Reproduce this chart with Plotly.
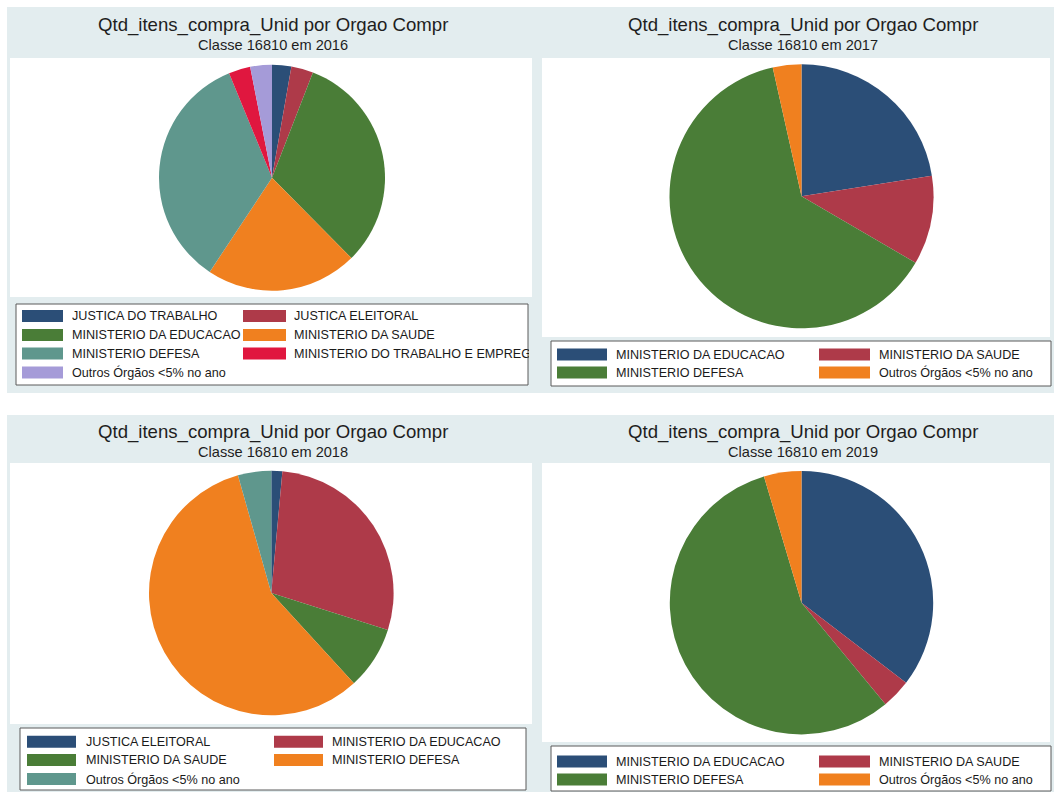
import plotly.graph_objects as go

W, H = 1054, 792

# ---------------- data ----------------
main_title = "Qtd_itens_compra_Unid por Orgao Compr"
subtitle_fmt = "Classe 16810 em {}"
years = [2016, 2017, 2018, 2019]

labels_2016 = ["JUSTICA DO TRABALHO", "JUSTICA ELEITORAL", "MINISTERIO DA EDUCACAO",
               "MINISTERIO DA SAUDE", "MINISTERIO DEFESA",
               "MINISTERIO DO TRABALHO E EMPREGO", "Outros Órgãos <5% no ano"]
values_2016 = [2.75, 3.15, 31.7, 21.7, 34.5, 3.1, 3.1]

labels_2017 = ["MINISTERIO DA EDUCACAO", "MINISTERIO DA SAUDE", "MINISTERIO DEFESA",
               "Outros Órgãos <5% no ano"]
values_2017 = [22.5, 10.9, 63.1, 3.5]

labels_2018 = ["JUSTICA ELEITORAL", "MINISTERIO DA EDUCACAO", "MINISTERIO DA SAUDE",
               "MINISTERIO DEFESA", "Outros Órgãos <5% no ano"]
values_2018 = [1.45, 28.45, 8.3, 57.4, 4.4]

labels_2019 = ["MINISTERIO DA EDUCACAO", "MINISTERIO DA SAUDE", "MINISTERIO DEFESA",
               "Outros Órgãos <5% no ano"]
values_2019 = [35.4, 3.6, 56.4, 4.6]

palette = ["#2b4e77", "#ae3a49", "#4a7d37", "#f0801f", "#5f978d", "#e0173f", "#a59bd8"]

# ---------------- layout geometry (pixels) ----------------
panels = [
    dict(labels=labels_2016, values=values_2016, year=years[0],
         bg=(7, 7, 537, 393), plot=(10, 58, 532, 297),
         pie=(272, 177.7, 113), title_x=273, title_y=25, sub_y=45.5,
         box=(16, 304, 528, 385), rows=[316, 335, 353.5, 372.5],
         sw=[(22, 63), (243, 286)], tx=[70, 292], sw_h=12, clip_right=527),
    dict(labels=labels_2017, values=values_2017, year=years[1],
         bg=(537, 7, 1054, 393), plot=(542, 58, 1050, 337),
         pie=(801.5, 196.3, 132), title_x=803, title_y=25, sub_y=45.5,
         box=(551, 341, 1051, 386), rows=[354.5, 372.5],
         sw=[(557, 607), (819, 870)], tx=[614, 877], sw_h=12, clip_right=1050),
    dict(labels=labels_2018, values=values_2018, year=years[2],
         bg=(7, 415, 537, 792), plot=(10, 463, 532, 724),
         pie=(271.3, 593, 122.3), title_x=273, title_y=431.7, sub_y=452.3,
         box=(20, 728, 526, 790), rows=[741.7, 760, 779],
         sw=[(27, 76), (274, 323)], tx=[84, 330], sw_h=12, clip_right=525),
    dict(labels=labels_2019, values=values_2019, year=years[3],
         bg=(537, 415, 1054, 792), plot=(542, 463, 1050, 742),
         pie=(801.5, 602.7, 131.7), title_x=803, title_y=431.7, sub_y=452.3,
         box=(551, 746, 1051, 791), rows=[761.5, 779.5],
         sw=[(557, 607), (819, 870)], tx=[614, 877], sw_h=12, clip_right=1050),
]

BG = "#e3edef"
FONT = "Liberation Sans, Arial, Helvetica, sans-serif"


def px(x):
    return x / W


def py(y):
    return 1 - y / H


fig = go.Figure()
shapes = []
annotations = []

for p in panels:
    # panel background and white plot region
    x0, y0, x1, y1 = p["bg"]
    shapes.append(dict(type="rect", xref="paper", yref="paper", layer="below",
                       x0=px(x0), x1=px(x1), y0=py(y1), y1=py(y0),
                       fillcolor=BG, line=dict(width=0)))
    x0, y0, x1, y1 = p["plot"]
    shapes.append(dict(type="rect", xref="paper", yref="paper", layer="below",
                       x0=px(x0), x1=px(x1), y0=py(y1), y1=py(y0),
                       fillcolor="white", line=dict(width=0)))

    # pie
    cx, cy, r = p["pie"]
    n = len(p["labels"])
    fig.add_trace(go.Pie(
        labels=p["labels"], values=p["values"],
        marker=dict(colors=palette[:n], line=dict(width=0)),
        sort=False, direction="clockwise", rotation=0,
        textinfo="none", hoverinfo="label+percent", showlegend=False,
        domain=dict(x=[px(cx - r), px(cx + r)], y=[py(cy + r), py(cy - r)]),
    ))

    # titles
    annotations.append(dict(text=main_title, x=px(p["title_x"]), y=py(p["title_y"]),
                            xref="paper", yref="paper", showarrow=False,
                            xanchor="center", yanchor="middle",
                            font=dict(family=FONT, size=18.6, color="#1e1e1e")))
    annotations.append(dict(text=subtitle_fmt.format(p["year"]), x=px(p["title_x"]),
                            y=py(p["sub_y"]), xref="paper", yref="paper", showarrow=False,
                            xanchor="center", yanchor="middle",
                            font=dict(family=FONT, size=14.6, color="#1e1e1e")))

    # legend box
    bx0, by0, bx1, by1 = p["box"]
    shapes.append(dict(type="rect", xref="paper", yref="paper", layer="below",
                       x0=px(bx0), x1=px(bx1), y0=py(by1), y1=py(by0),
                       fillcolor="white", line=dict(color="#5a5a5a", width=1)))
    for i, lab in enumerate(p["labels"]):
        row, col = divmod(i, 2)
        yc = p["rows"][row]
        sx0, sx1 = p["sw"][col]
        h = p["sw_h"]
        shapes.append(dict(type="rect", xref="paper", yref="paper", layer="below",
                           x0=px(sx0), x1=px(sx1), y0=py(yc + h / 2), y1=py(yc - h / 2),
                           fillcolor=palette[i], line=dict(width=0)))
        tx = p["tx"][col]
        annotations.append(dict(text=lab, x=px(tx), y=py(yc), xref="paper", yref="paper",
                                showarrow=False, xanchor="left", yanchor="middle",
                                align="left", width=p["clip_right"] - tx,
                                font=dict(family=FONT, size=12.6, color="#1a1a1a")))

fig.update_layout(
    width=W, height=H,
    margin=dict(l=0, r=0, t=0, b=0),
    paper_bgcolor="white", plot_bgcolor="white",
    showlegend=False,
    shapes=shapes, annotations=annotations,
)

fig.write_html(
    "out.html",
    config={"displayModeBar": False},
    post_script="document.body.style.margin='0';document.body.style.padding='0';"
                "document.body.style.overflow='hidden';",
)
